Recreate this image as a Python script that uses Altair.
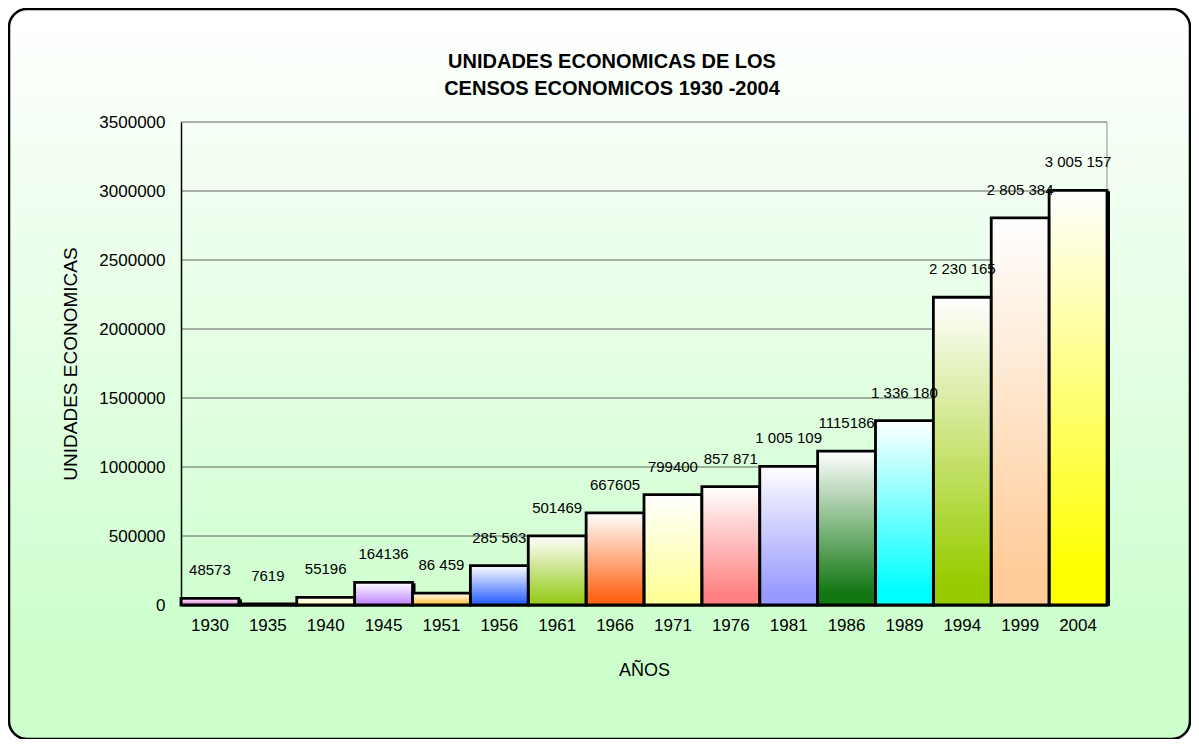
import altair as alt
import pandas as pd

years = ["1930", "1935", "1940", "1945", "1951", "1956", "1961", "1966",
         "1971", "1976", "1981", "1986", "1989", "1994", "1999", "2004"]
units = [48573, 7619, 55196, 164136, 86459, 285563, 501469, 667605,
         799400, 857871, 1005109, 1115186, 1336180, 2230165, 2805384, 3005157]
labels = ["48573", "7619", "55196", "164136", "86 459", "285 563", "501469", "667605",
          "799400", "857 871", "1 005 109", "1115186", "1 336 180", "2 230 165",
          "2 805 384", "3 005 157"]
bar_colors = ["#e080e0", "#c0c0c0", "#ffffc0", "#c38cff", "#ffc040", "#3366ff",
              "#99cc22", "#ff6619", "#ffff99", "#ff8080", "#9999ff", "#137813",
              "#00ffff", "#99cc00", "#ffcc99", "#ffff00"]
y_ticks = [0, 500000, 1000000, 1500000, 2000000, 2500000, 3000000, 3500000]
title_lines = ["UNIDADES ECONOMICAS DE LOS", "CENSOS ECONOMICOS 1930 -2004"]

FONT = "Liberation Sans"
W, H = 926, 483

df = pd.DataFrame({"year": years, "units": units, "label": labels})
grid_df = pd.DataFrame({"v": y_ticks[1:]})
one = pd.DataFrame({"a": [0]})

x_axis = alt.Axis(title="AÑOS", labelAngle=0, labelFontSize=17, labelPadding=12,
                  ticks=False, grid=False, domainColor="black", domainWidth=2,
                  titleFontSize=18, titleFontWeight="normal", titlePadding=28,
                  labelColor="black", titleColor="black", labelFont=FONT,
                  titleFont=FONT, zindex=1)
y_axis = alt.Axis(title="UNIDADES ECONOMICAS", values=y_ticks, format="d",
                  labelFontSize=17, labelPadding=16, ticks=False, grid=False,
                  domainColor="black", domainWidth=1.5, titleFontSize=19,
                  titleFontWeight="normal", titlePadding=18, labelColor="black",
                  titleColor="black", labelFont=FONT, titleFont=FONT,
                  labelFlush=False, labelOverlap=False, zindex=1)

x_scale = alt.Scale(domain=years, paddingInner=0, paddingOuter=0)
y_scale = alt.Scale(domain=[0, 3500000], nice=False, zero=True)


def xe():
    return alt.X("year:N", sort=years, scale=x_scale, axis=x_axis)


def ye(field):
    return alt.Y(f"{field}:Q", scale=y_scale, axis=y_axis)


frame = alt.Chart(one).mark_rect(
    fill={"gradient": "linear", "x1": 0, "y1": 0, "x2": 0, "y2": 1,
          "stops": [{"offset": 0, "color": "#ffffff"},
                    {"offset": 0.88, "color": "#ccffcc"},
                    {"offset": 1, "color": "#ccffcc"}]},
    stroke="black", strokeWidth=2.5, cornerRadius=18
).encode(x=alt.value(-172), x2=alt.value(W + 83),
         y=alt.value(-113), y2=alt.value(H + 134))

grid = alt.Chart(grid_df).mark_rule(color="#606060", strokeWidth=1).encode(
    y=ye("v"))
right_border = alt.Chart(one).mark_rule(color="#909090", strokeWidth=1).encode(
    x=alt.value(W), y=alt.value(0), y2=alt.value(H))

shadow = alt.Chart(df).mark_bar(color="black", xOffset=3, yOffset=1).encode(
    x=xe(), y=ye("units"))
bars = alt.Chart(df).mark_bar(strokeWidth=0).encode(
    x=xe(), y=ye("units"),
    fill=alt.Fill("year:N", scale=alt.Scale(domain=years, range=bar_colors), legend=None))
shade = alt.Chart(df).mark_bar(
    fill={"gradient": "linear", "x1": 0, "y1": 0, "x2": 0, "y2": 1,
          "stops": [{"offset": 0, "color": "rgba(255,255,255,1)"},
                    {"offset": 0.92, "color": "rgba(255,255,255,0)"}]},
    stroke="black", strokeWidth=2.8
).encode(x=xe(), y=ye("units"))

text = alt.Chart(df).mark_text(baseline="bottom", dy=-20, fontSize=15, font=FONT,
                               color="black").encode(
    x=xe(), y=ye("units"), text="label:N")

t1 = alt.Chart(one).mark_text(fontSize=20, fontWeight="bold", font=FONT,
                              color="black", baseline="middle").encode(
    x=alt.value(431), y=alt.value(-60), text=alt.value(title_lines[0]))
t2 = alt.Chart(one).mark_text(fontSize=20, fontWeight="bold", font=FONT,
                              color="black", baseline="middle").encode(
    x=alt.value(431), y=alt.value(-33), text=alt.value(title_lines[1]))

chart = alt.layer(frame, grid, right_border, shadow, bars, shade, text, t1, t2).properties(
    width=W, height=H,
    autosize=alt.AutoSizeParams(type="none"),
    padding={"left": 173, "top": 114, "right": 84, "bottom": 134},
).configure_view(strokeWidth=0)

chart.save("out.html", embed_options={"renderer": "svg", "actions": False})
